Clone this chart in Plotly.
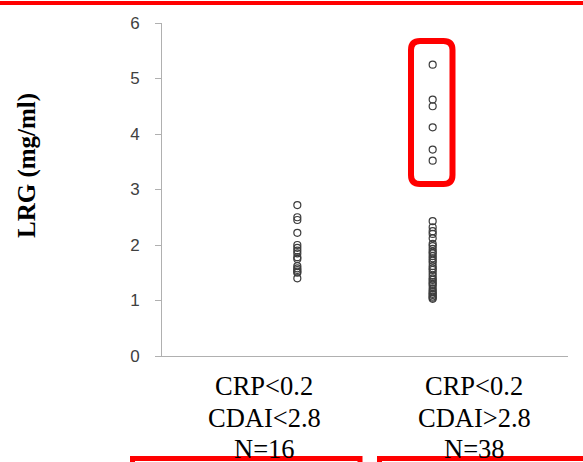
import plotly.graph_objects as go

# LRG serum levels (mg/ml) in two CRP-negative groups split by CDAI
group_lines = [["CRP<0.2", "CDAI<2.8", "N=16"],
               ["CRP<0.2", "CDAI>2.8", "N=38"]]
group_x = [1, 2]
label_x = [0.754, 2.306]

lrg_low_cdai = [2.72, 2.50, 2.45, 2.22, 2.00, 1.95, 1.90, 1.85,
                1.78, 1.75, 1.62, 1.58, 1.55, 1.52, 1.50, 1.40]

lrg_high_cdai = [5.25, 4.62, 4.50, 4.12, 3.72, 3.52,
                 2.43, 2.32, 2.25, 2.20, 2.12, 2.02, 1.98, 1.93,
                 1.88, 1.85, 1.80, 1.76, 1.72, 1.68, 1.62, 1.58,
                 1.55, 1.50, 1.45, 1.40, 1.37, 1.33, 1.30, 1.27,
                 1.22, 1.18, 1.15, 1.12, 1.10, 1.07, 1.05, 1.03]

y_ticks = [0, 1, 2, 3, 4, 5, 6]

W, H = 583, 462
ML, MR, MT, MB = 162, 15, 23, 106
PW, PH = W - ML - MR, H - MT - MB


def px(x):
    return (x - ML) / PW


def py(y):
    return (H - MB - y) / PH


def rounded_rect(x0, y0, x1, y1, r):
    pts = [
        f"M {px(x0 + r)},{py(y0)}",
        f"L {px(x1 - r)},{py(y0)}",
        f"Q {px(x1)},{py(y0)} {px(x1)},{py(y0 + r)}",
        f"L {px(x1)},{py(y1 - r)}",
        f"Q {px(x1)},{py(y1)} {px(x1 - r)},{py(y1)}",
        f"L {px(x0 + r)},{py(y1)}",
        f"Q {px(x0)},{py(y1)} {px(x0)},{py(y1 - r)}",
        f"L {px(x0)},{py(y0 + r)}",
        f"Q {px(x0)},{py(y0)} {px(x0 + r)},{py(y0)}",
        "Z",
    ]
    return " ".join(pts)


marker = dict(symbol="circle-open", size=7, color="#3c3c3c",
              line=dict(width=1.2, color="#3c3c3c"))

fig = go.Figure()
for gx, vals in zip(group_x, [lrg_low_cdai, lrg_high_cdai]):
    fig.add_trace(go.Scatter(x=[gx] * len(vals), y=vals, mode="markers",
                             marker=marker, showlegend=False, cliponaxis=False))

red = "#ff0000"
shapes = [
    # banner line across the top
    dict(type="line", xref="paper", yref="paper", x0=px(0), x1=px(W),
         y0=py(3), y1=py(3), line=dict(color=red, width=4), layer="above"),
    # highlight of the elevated subgroup
    dict(type="path", xref="paper", yref="paper",
         path=rounded_rect(411, 41, 452.5, 184, 9),
         line=dict(color=red, width=6), layer="above"),
    # boxes below the group labels
    dict(type="rect", xref="paper", yref="paper", x0=px(132.5), x1=px(360),
         y0=py(458.5), y1=py(480), line=dict(color=red, width=5), layer="above"),
    dict(type="rect", xref="paper", yref="paper", x0=px(379.5), x1=px(600),
         y0=py(458.5), y1=py(480), line=dict(color=red, width=5), layer="above"),
]

# group labels under the axis, one annotation per text row
line_centres = [386, 417.5, 449]
annotations = []
for lx, lines in zip(label_x, group_lines):
    for row, (txt, yc) in enumerate(zip(lines, line_centres)):
        annotations.append(dict(text=txt, xref="x", yref="paper", x=lx,
                                y=py(yc), showarrow=False, xanchor="center",
                                yanchor="middle",
                                font=dict(family="Liberation Serif", size=26.5,
                                          color="black")))

annotations.append(dict(text="<b>LRG (mg/ml)</b>", xref="paper", yref="paper",
                        x=px(27), y=py(166), textangle=-90, showarrow=False,
                        xanchor="center", yanchor="middle",
                        font=dict(family="Liberation Serif", size=25,
                                  color="black")))

fig.update_layout(
    width=W, height=H,
    margin=dict(l=ML, r=MR, t=MT, b=MB, pad=0, autoexpand=False),
    paper_bgcolor="white", plot_bgcolor="white",
    shapes=shapes,
    annotations=annotations,
    xaxis=dict(range=[0, 3], showticklabels=False, ticks="", showgrid=False,
               zeroline=False, showline=True, linecolor="#b0b0b0", linewidth=1,
               automargin=False),
    yaxis=dict(range=[0, 6], tickvals=y_ticks, ticks="outside", ticklen=6,
               tickcolor="#b0b0b0", tickwidth=1, showgrid=False, zeroline=False,
               showline=True, linecolor="#b0b0b0", linewidth=1,
               ticklabelstandoff=12, automargin=False,
               tickfont=dict(family="Liberation Sans", size=17, color="#404040")),
)

fig.write_html("out.html")
